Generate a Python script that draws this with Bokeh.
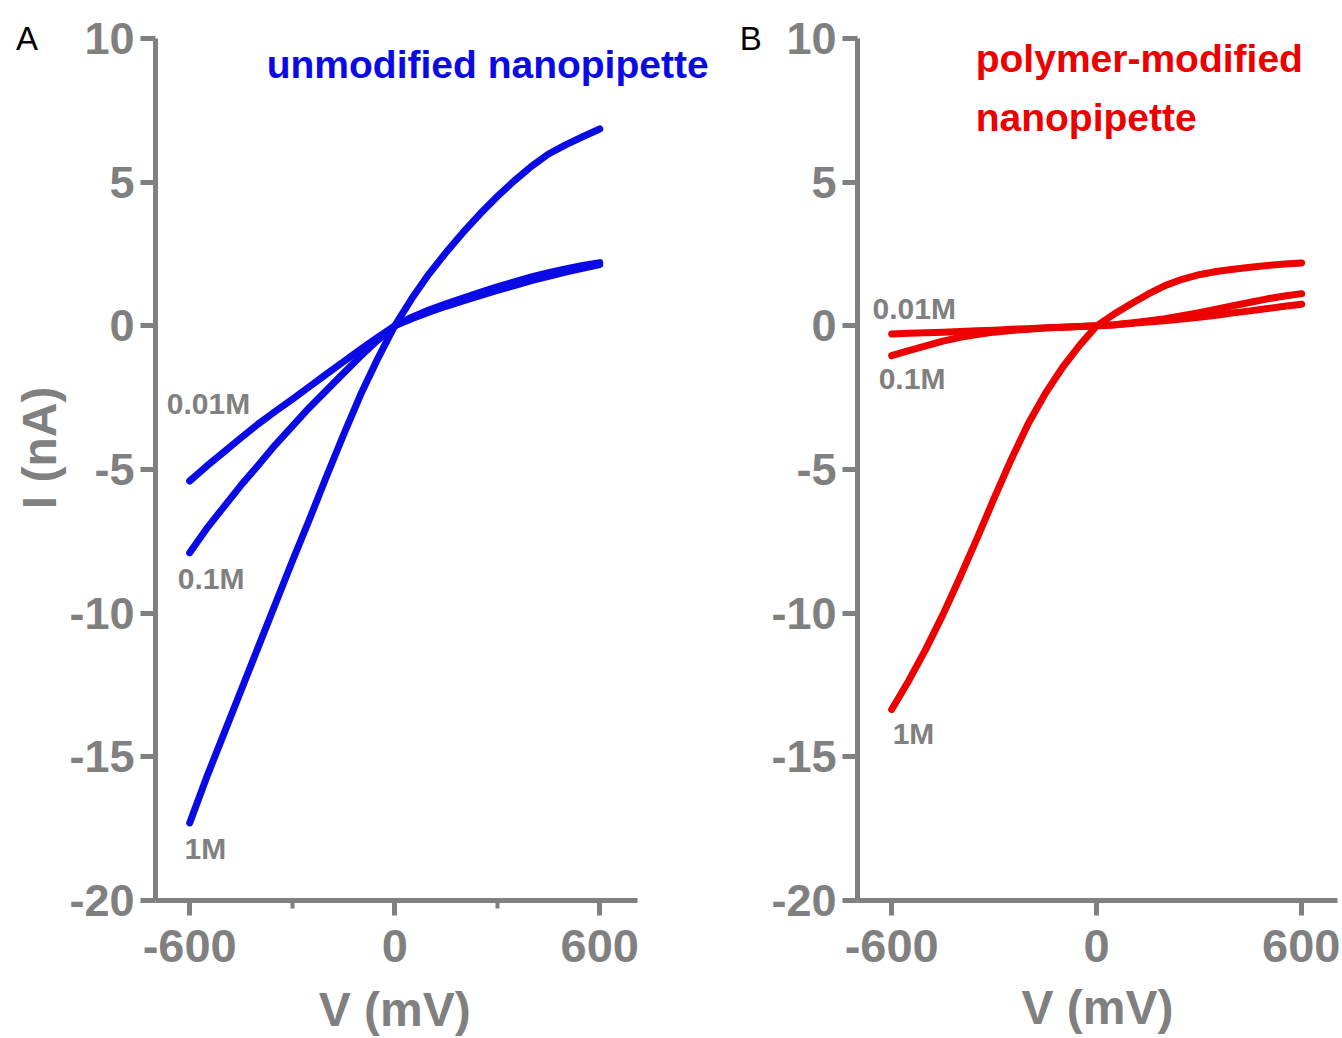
import math
from bokeh.plotting import figure
from bokeh.layouts import row
from bokeh.models import FixedTicker, Label, Range1d
from bokeh.embed import file_html
from bokeh.resources import INLINE

# ---------------- data ----------------
voltage_mV = [-600, -550, -500, -450, -400, -350, -300, -250, -200, -150, -100, -50, 0,
              50, 100, 150, 200, 250, 300, 350, 400, 450, 500, 550, 600]

# A: unmodified nanopipette, current in nA
unmod_1M = [-17.3, -15.7, -14.2, -12.7, -11.2, -9.7, -8.2, -6.75, -5.25, -3.8, -2.4, -1.15, 0.0,
            0.95, 1.8, 2.55, 3.25, 3.9, 4.5, 5.05, 5.55, 5.98, 6.3, 6.58, 6.85]
unmod_0_1M = [-7.9, -7.05, -6.3, -5.55, -4.86, -4.15, -3.5, -2.85, -2.25, -1.65, -1.06, -0.5, 0.0,
              0.3, 0.55, 0.77, 0.97, 1.17, 1.36, 1.53, 1.7, 1.85, 1.98, 2.1, 2.2]
unmod_0_01M = [-5.4, -4.88, -4.39, -3.9, -3.42, -2.98, -2.56, -2.12, -1.68, -1.25, -0.82, -0.4, 0.0,
               0.25, 0.47, 0.68, 0.87, 1.05, 1.23, 1.4, 1.57, 1.72, 1.87, 2.0, 2.13]

# B: polymer-modified nanopipette, current in nA
mod_1M = [-13.35, -12.35, -11.25, -10.05, -8.75, -7.4, -6.0, -4.65, -3.4, -2.35, -1.45, -0.68, 0.0,
          0.4, 0.76, 1.1, 1.4, 1.62, 1.78, 1.89, 1.97, 2.04, 2.1, 2.15, 2.19]
mod_0_1M = [-1.04, -0.86, -0.7, -0.53, -0.4, -0.3, -0.22, -0.16, -0.12, -0.08, -0.05, -0.02, 0.0,
            0.04, 0.1, 0.17, 0.25, 0.35, 0.46, 0.58, 0.7, 0.82, 0.94, 1.04, 1.12]
mod_0_01M = [-0.28, -0.26, -0.24, -0.22, -0.2, -0.17, -0.15, -0.12, -0.1, -0.07, -0.05, -0.02, 0.0,
             0.03, 0.08, 0.13, 0.18, 0.24, 0.3, 0.37, 0.45, 0.52, 0.6, 0.68, 0.75]

x_major_ticks = [-600, 0, 600]
x_tick_labels = ["-600", "0", "600"]
x_minor_ticks_A = [-300, 300]
y_major_ticks = [-20, -15, -10, -5, 0, 5, 10]
y_tick_labels = ["-20", "-15", "-10", "-5", "0", "5", "10"]

conc_labels = ["0.01M", "0.1M", "1M"]

# ---------------- styling ----------------
GRAY = "#808080"
BLUE = "#0a0ae6"
RED = "#ec0000"
FONT = "Liberation Sans"


def style_axes(p, minor, x_bounds):
    for ax in (p.xaxis[0], p.yaxis[0]):
        ax.axis_line_color = GRAY
        ax.axis_line_width = 5
        ax.major_tick_line_color = GRAY
        ax.major_tick_line_width = 5
        ax.major_tick_out = 15
        ax.major_tick_in = 0
        ax.minor_tick_line_color = GRAY
        ax.minor_tick_line_width = 4
        ax.minor_tick_out = 8
        ax.minor_tick_in = 0
        ax.major_label_text_color = GRAY
        ax.major_label_text_font = FONT
        ax.major_label_text_font_style = "bold"
        ax.axis_label_text_color = GRAY
        ax.axis_label_text_font = FONT
        ax.axis_label_text_font_style = "bold"
    p.xaxis[0].bounds = x_bounds
    p.xaxis[0].ticker = FixedTicker(ticks=x_major_ticks, minor_ticks=minor)
    p.yaxis[0].ticker = FixedTicker(ticks=y_major_ticks, minor_ticks=[])
    p.xaxis[0].major_label_overrides = dict(zip(x_major_ticks, x_tick_labels))
    p.yaxis[0].major_label_overrides = dict(zip(y_major_ticks, y_tick_labels))
    p.xaxis[0].major_label_text_font_size = "47px"
    p.yaxis[0].major_label_text_font_size = "45px"
    p.xaxis[0].major_label_standoff = 14
    p.yaxis[0].major_label_standoff = 6
    p.xgrid.visible = False
    p.ygrid.visible = False
    p.outline_line_color = None


def add_text(p, x, y, text, size, color, bold=True, align="left", place="center", angle=0.0):
    p.add_layout(Label(x=x, y=y, text=text, text_font=FONT, text_font_size=size,
                       text_color=color, text_font_style="bold" if bold else "normal",
                       text_align=align, text_baseline="middle", angle=angle), place)


# ---------------- panel A ----------------
pA = figure(width=720, height=1036, x_range=Range1d(-700, 953.4), y_range=Range1d(-20, 10),
            output_backend="svg", toolbar_location=None,
            min_border_left=155, min_border_right=0, min_border_top=38, min_border_bottom=136,
            background_fill_color="white", border_fill_color="white")
style_axes(pA, x_minor_ticks_A, (-700, 711))

for ys in (unmod_0_01M, unmod_0_1M, unmod_1M):
    pA.line(voltage_mV, ys, line_width=7, line_color=BLUE, line_cap="round", line_join="round")

add_text(pA, -667, -2.7, conc_labels[0], "30px", GRAY)
add_text(pA, -635, -8.8, conc_labels[1], "30px", GRAY)
add_text(pA, -615, -18.2, conc_labels[2], "30px", GRAY)
add_text(pA, 272, 9.1, "unmodified nanopipette", "39px", BLUE, align="center")
add_text(pA, -1108, 10.0, "A", "33px", "black", bold=False, place="above")
add_text(pA, 0, -23.8, "V (mV)", "48px", GRAY, align="center", place="below")
add_text(pA, -1039, -4.25, "I (nA)", "48px", GRAY, align="center", place="left", angle=math.pi / 2)

# ---------------- panel B ----------------
pB = figure(width=620, height=1036, x_range=Range1d(-700, 705), y_range=Range1d(-20, 10),
            output_backend="svg", toolbar_location=None,
            min_border_left=137, min_border_right=3, min_border_top=38, min_border_bottom=136,
            background_fill_color="white", border_fill_color="white")
style_axes(pB, [], (-700, 705))
pB.xaxis[0].axis_label = "V (mV)"
pB.xaxis[0].axis_label_text_font_size = "48px"
pB.xaxis[0].axis_label_standoff = 16

for ys in (mod_0_01M, mod_0_1M, mod_1M):
    pB.line(voltage_mV, ys, line_width=7, line_color=RED, line_cap="round", line_join="round")

add_text(pB, -656, 0.6, conc_labels[0], "30px", GRAY)
add_text(pB, -638, -1.85, conc_labels[1], "30px", GRAY)
add_text(pB, -597, -14.2, conc_labels[2], "30px", GRAY)
add_text(pB, -354, 9.29, "polymer-modified", "39px", RED)
add_text(pB, -354, 7.24, "nanopipette", "39px", RED)
add_text(pB, -1045, 10.0, "B", "33px", "black", bold=False, place="above")

layout = row(pA, pB)
open("out.html", "w").write(file_html(layout, INLINE))
